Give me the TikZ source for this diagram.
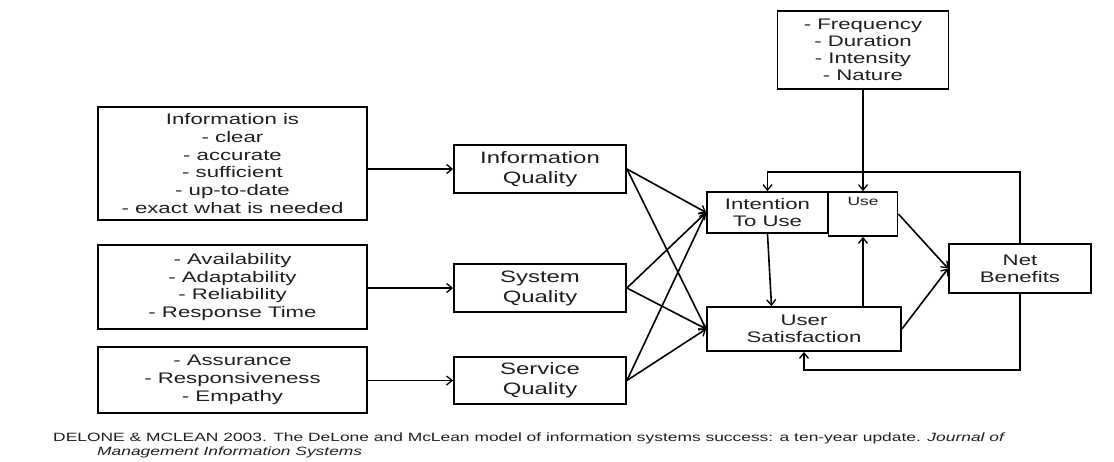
\documentclass[tikz,border=0pt]{standalone}
\usepackage{fontspec}
\setmainfont{Liberation Sans}[FakeStretch=1.45]
\usetikzlibrary{arrows.meta}
\begin{document}
\begin{tikzpicture}[x=1pt,y=-1pt,
  box/.style={draw=black, line width=1.8pt, fill=white, align=center,
    text=black!88, inner sep=0pt},
  lst/.style={font=\fontsize{15.3}{17.8}\selectfont},
  qual/.style={font=\fontsize{16.5}{20}\selectfont},
  core/.style={font=\fontsize{15.3}{17}\selectfont},
  arr/.style={line width=1.6pt, -{Straight Barb[length=5.5pt,width=9pt,line width=1.3pt]}},
  cite/.style={font=\fontsize{12}{12}\selectfont, text=black!88, inner sep=0pt, anchor=base west}
]
\useasboundingbox (0,0) rectangle (1114,461);

% attribute lists
\node[box, lst, minimum width=269, minimum height=113] (infolist) at (232.5,163.5)
  {Information is\\- clear\\- accurate\\- sufficient\\- up-to-date\\- exact what is needed};
\node[box, lst, minimum width=269, minimum height=84] (syslist) at (232.5,287)
  {- Availability\\- Adaptability\\- Reliability\\- Response Time};
\node[box, lst, minimum width=269, minimum height=66] (servlist) at (232.5,380)
  {- Assurance\\- Responsiveness\\- Empathy};

% quality dimensions
\node[box, qual, minimum width=172, minimum height=48] (infoq) at (540,169) {Information\\Quality};
\node[box, qual, minimum width=172, minimum height=48] (sysq) at (540,288) {System\\Quality};
\node[box, qual, minimum width=172, minimum height=47] (servq) at (540,380.5) {Service\\Quality};

% use dimensions
\node[box, core, minimum width=171, minimum height=78] (usage) at (863,50)
  {- Frequency\\- Duration\\- Intensity\\- Nature};

% core constructs
\node[box, core, minimum width=121, minimum height=41] (intent) at (767.5,212.5) {Intention\\To Use};
\node[box, minimum width=69, minimum height=44,
  label={[anchor=north, inner sep=0pt, yshift=-6pt, text=black!88,
    font=\fontsize{12}{14}\selectfont]north:Use}] (use) at (863,214) {};
\node[box, core, minimum width=194, minimum height=44] (usersat) at (804,329) {User\\Satisfaction};
\node[box, core, minimum width=142, minimum height=49] (net) at (1020,268.5) {Net\\Benefits};

% attributes to quality dimensions
\draw[arr] (infoq.west -| infolist.east) -- (infoq.west);
\draw[arr] (sysq.west -| syslist.east) -- (sysq.west);
\draw[arr] (servq.west -| servlist.east) -- (servq.west);

% quality dimensions to use and satisfaction
\foreach \q in {infoq, sysq, servq} {
  \draw[arr] (\q.east) -- (intent.west);
  \draw[arr] (\q.east) -- (usersat.west);
}

% core relations
\draw[arr] (usage.south) -- (use.north);
\draw[arr] (intent.south) -- ([xshift=4pt]intent.south |- usersat.north);
\draw[arr] (use.south |- usersat.north) -- (use.south);
\draw[arr] (use.east) -- (net.west);
\draw[arr] (usersat.east) -- (net.west);

% feedback loops
\coordinate (fbtop) at (1020,172);
\coordinate (fbbot) at (1020,370);
\draw[arr] (net.north) -- (fbtop) -| (intent.north);
\draw[arr] (net.south) -- (fbbot) -| (usersat.south);

% reference
\node[cite] (cite1) at (53,441) {DELONE \& MCLEAN 2003. The DeLone and McLean model of information systems success: a ten-year update. \textit{Journal of}};
\node[cite] (cite2) at (97,455) {\textit{Management Information Systems}};
\end{tikzpicture}
\end{document}
